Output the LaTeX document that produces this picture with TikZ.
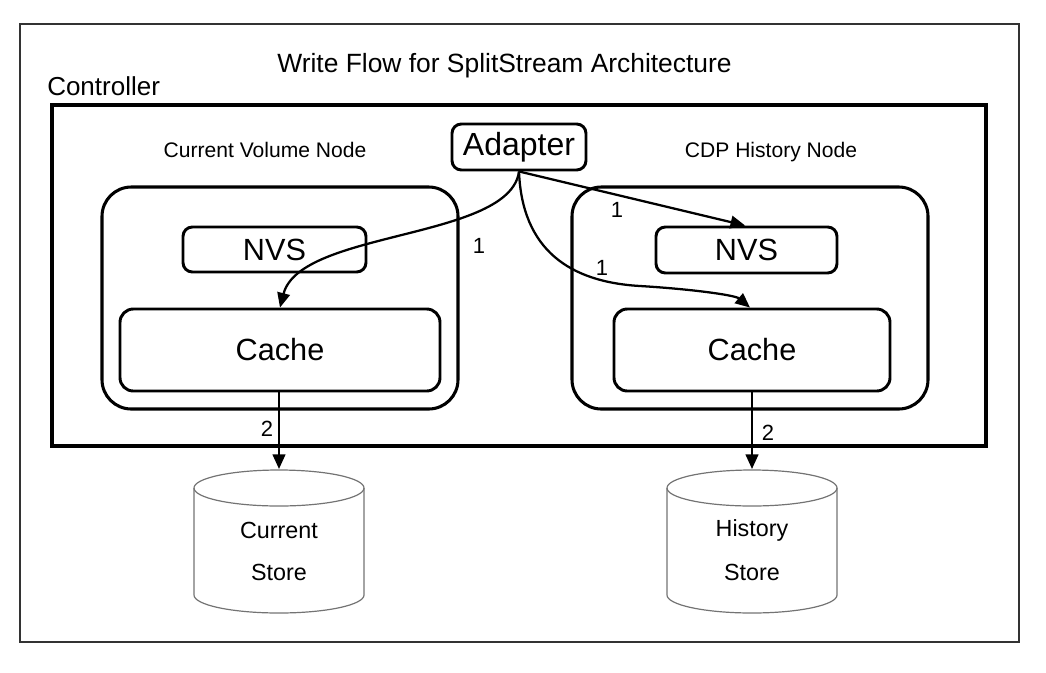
\documentclass[tikz,border=0pt]{standalone}
\usepackage{fontspec}
\setmainfont{Liberation Sans}
\usetikzlibrary{arrows.meta}
\tikzset{
  rbox/.style={draw=black, line width=2.2pt, rounded corners=#1, inner sep=0pt},
  nodebox/.style={draw=black, line width=2.3pt, rounded corners=22pt, minimum width=267pt, minimum height=166.5pt, inner sep=0pt},
  arr/.style={line width=1.7pt, -{Triangle[length=11pt,width=9.5pt]}},
  lbl/.style={font=\fontsize{16.5}{18}\selectfont, inner sep=0pt},
  cyl/.style={draw=black!55, line width=0.9pt},
  cyltext/.style={font=\fontsize{17.5}{20}\selectfont, inner sep=0pt}
}
\begin{document}
\begin{tikzpicture}[x=0.75pt,y=-0.75pt]
\useasboundingbox (0,0) rectangle (1046,672);
% outer frame
\draw[draw=black!80, line width=1.4pt] (20,24) rectangle (1019,642);
% title and controller label
\node[anchor=base, font=\fontsize{19.8}{22}\selectfont, inner sep=0pt] (title) at (504.5,72) {Write Flow for SplitStream Architecture};
\node[anchor=base west, font=\fontsize{19.5}{22}\selectfont, inner sep=0pt] (ctrllbl) at (47,95) {Controller};
% controller box
\node[draw=black, line width=3pt, minimum width=700.5pt, minimum height=255.75pt, inner sep=0pt] (ctrl) at (519,275.5) {};
% node labels
\node[anchor=base, font=\fontsize{15.8}{18}\selectfont, inner sep=0pt] (cvn) at (265,157) {Current Volume Node};
\node[anchor=base, font=\fontsize{15.8}{18}\selectfont, inner sep=0pt] (chn) at (771,157) {CDP History Node};
% node boxes
\node[nodebox] (lnode) at (280,298) {};
\node[nodebox] (rnode) at (750,298) {};
% adapter
\node[rbox=7pt, minimum width=100.5pt, minimum height=34.5pt, font=\fontsize{24}{26}\selectfont] (adapter) at (519,147) {Adapter};
% NVS
\node[rbox=7pt, minimum width=137.25pt, minimum height=33.75pt, font=\fontsize{23}{26}\selectfont] (lnvs) at (274.5,249.5) {NVS};
\node[rbox=7pt, minimum width=135.75pt, minimum height=34.5pt, font=\fontsize{23}{26}\selectfont] (rnvs) at (746.5,250) {NVS};
% Cache
\node[rbox=10pt, minimum width=240pt, minimum height=61.5pt, font=\fontsize{23}{26}\selectfont] (lcache) at (280,350) {Cache};
\node[rbox=10pt, minimum width=207pt, minimum height=61.5pt, font=\fontsize{23}{26}\selectfont] (rcache) at (752,350) {Cache};
% cylinders
\draw[cyl] (194,488) -- (194,595) arc[start angle=180, end angle=360, x radius=63.75pt, y radius=13.5pt] -- (364,488);
\draw[cyl] (279,488) ellipse [x radius=63.75pt, y radius=13.5pt];
\draw[cyl] (667,488) -- (667,595) arc[start angle=180, end angle=360, x radius=63.75pt, y radius=13.5pt] -- (837,488);
\draw[cyl] (752,488) ellipse [x radius=63.75pt, y radius=13.5pt];
\coordinate (ltop) at (279,469);
\coordinate (rtop) at (752,469);
\node[cyltext] (cur1) at (279,530) {Current};
\node[cyltext] (cur2) at (279,572) {Store};
\node[cyltext] (his1) at (752,530) {History};
\node[cyltext] (his2) at (752,572) {Store};
% arrows from adapter
\draw[arr] (adapter.south) .. controls (510,240) and (300,230) .. (lcache.north);
\draw[arr] (adapter.south) -- ([xshift=-1pt]rnvs.north);
\draw[arr] (adapter.south) .. controls (522,250) and (570,282) .. (640,286) .. controls (690,289) and (735,295) .. ([xshift=-1.5pt]rcache.north);
\node[lbl] (l1a) at (479,246) {1};
\node[lbl] (l1b) at (617,210) {1};
\node[lbl] (l1c) at (602,268) {1};
% down arrows
\draw[arr] ([xshift=-0.75pt]lcache.south) -- (ltop);
\draw[arr] (rcache.south) -- (rtop);
\node[lbl] (l2a) at (267,429) {2};
\node[lbl] (l2b) at (768,433) {2};
\end{tikzpicture}
\end{document}
